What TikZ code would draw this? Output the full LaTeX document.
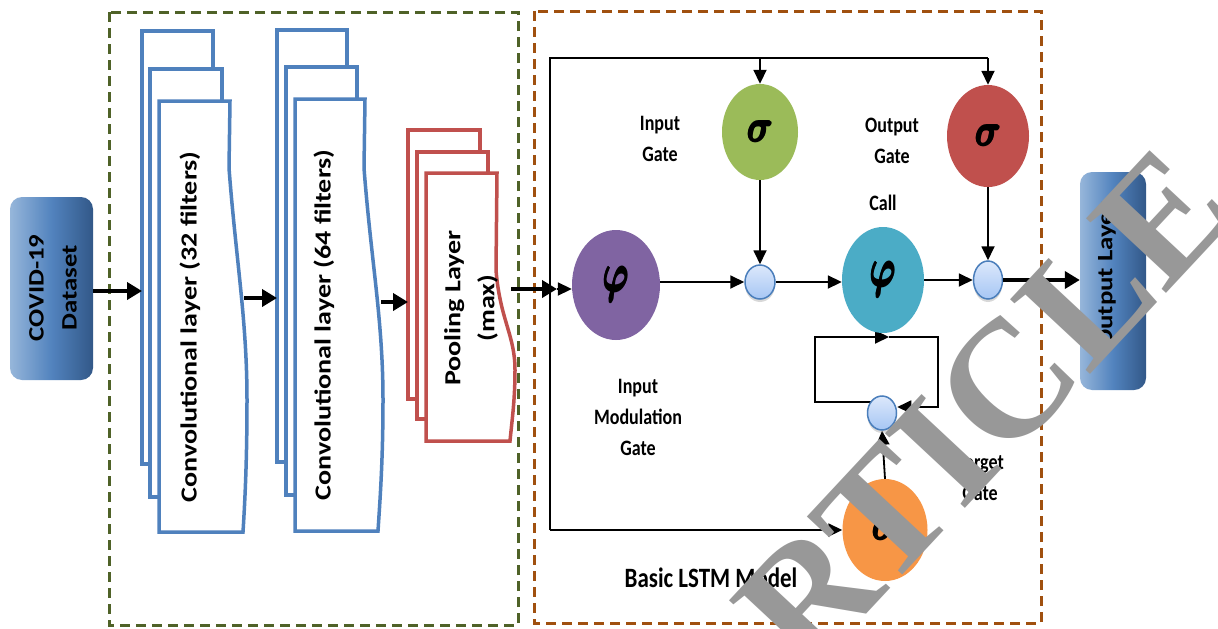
\documentclass[tikz,border=0pt]{standalone}
\usepackage{graphicx}
\usepackage{bm}
\usepackage{fontspec}
\setmainfont{Carlito}
\newfontfamily\hf[FakeStretch=0.82]{Carlito}
\newfontfamily\vf[FakeStretch=1.22]{Carlito}
\newfontfamily\wmf{Liberation Serif}
\usetikzlibrary{arrows.meta,shapes.geometric,shadows,calc}
\pgfdeclarelayer{bg}
\pgfsetlayers{bg,main}
\definecolor{dgreen}{RGB}{79,98,40}
\definecolor{dbrown}{RGB}{160,80,15}
\definecolor{cblue}{RGB}{79,129,189}
\definecolor{cred}{RGB}{192,80,77}
\definecolor{sgreen}{RGB}{155,187,89}
\definecolor{spurple}{RGB}{128,100,162}
\definecolor{steal}{RGB}{75,172,198}
\definecolor{sred}{RGB}{192,80,77}
\definecolor{sorange}{RGB}{247,150,70}
\definecolor{gl}{RGB}{150,182,218}
\definecolor{gm}{RGB}{82,131,190}
\definecolor{gr}{RGB}{50,88,136}
\definecolor{cl}{RGB}{220,232,251}
\definecolor{cd}{RGB}{166,198,244}
\definecolor{cb}{RGB}{74,126,187}
\definecolor{wmgray}{RGB}{152,152,152}
\newcommand\fbold[1]{\ooalign{\boldmath$#1$\cr\kern0.3pt\boldmath$#1$\cr\raisebox{0.25pt}{\boldmath$#1$}\cr\kern0.15pt\raisebox{-0.2pt}{\boldmath$#1$}\cr}}
\newcommand\bsig{\scalebox{3.6}[4.5]{\fbold{\sigma}}}
\newcommand\bphi{\scalebox{3.5}[5.2]{\fbold{\varphi}}}
\begin{document}
\begin{tikzpicture}[x=1pt,y=-1pt,
  tharr/.style={line width=4.5pt,-{Triangle[length=15pt 0,width=17pt 0]}},
  arr/.style={line width=1.8pt,-{Triangle[length=14pt 0,width=13pt 0]}},
  fl/.style={line width=1.8pt},
  dbox/.style={line width=3pt,dash pattern=on 10pt off 6pt},
  lblue/.style={draw=cblue,line width=3.5pt,fill=white},
  lred/.style={draw=cred,line width=3.5pt,fill=white},
  gbox/.style={rounded corners=12pt,left color=gl,right color=gr,middle color=gm,inner sep=0pt},
  vt/.style={font=\vf\bfseries\fontsize{23}{34}\selectfont,rotate=90,align=center,inner sep=0pt},
  ht/.style={font=\hf\bfseries\fontsize{22}{31}\selectfont,align=center,inner sep=0pt},
  big/.style={ellipse,inner sep=0pt},
  small/.style={ellipse,inner sep=0pt,draw=cb,line width=1.5pt,top color=cl,bottom color=cd,
     drop shadow={opacity=0.3,shadow xshift=0pt,shadow yshift=-3pt}},
  wm/.style={font=\wmf\bfseries\fontsize{167}{167}\selectfont,text=wmgray,inner sep=0pt,rotate=47}
]
\useasboundingbox (0,0) rectangle (1218,629);
\begin{pgfonlayer}{bg}
\fill[white] (0,0) rectangle (1218,629);
\end{pgfonlayer}

% dashed groups
\draw[dbox,draw=dgreen] (109,12) rectangle (518,625);
\draw[dbox,draw=dbrown] (534,11) rectangle (1041,623);

% dataset
\node[gbox,minimum width=83pt,minimum height=183pt] (ds) at (51.5,288.5) {};
\node[vt,font=\vf\bfseries\fontsize{22}{33}\selectfont] (dst) at (53,288) {COVID-19\\Dataset};

% conv layer 1
\draw[lblue] (142,31) rectangle (213,464);
\draw[lblue] (150,69) rectangle (222,497);
\draw[lblue] (159,101) -- (230,101) -- (229,168) .. controls (236,260) and (247,320) .. (247,400)
   .. controls (247,460) and (245,500) .. (243,532) -- (159,532) -- cycle;
\node[vt] (c1t) at (190,327) {Convolutional layer (32 filters)};
% conv layer 2
\draw[lblue] (277,30) rectangle (347,462);
\draw[lblue] (286,67) rectangle (357,495);
\draw[lblue] (295,99) -- (365,99) -- (364,168) .. controls (371,260) and (383,320) .. (383,400)
   .. controls (383,460) and (380,500) .. (378,531) -- (295,531) -- cycle;
\node[vt] (c2t) at (324,325) {Convolutional layer (64 filters)};
% pooling
\draw[lred] (408,130) rectangle (480,399);
\draw[lred] (417,152) rectangle (488,419);
\draw[lred] (426,173) -- (497,173) -- (496,270) .. controls (500,320) and (515,335) .. (515,370)
   .. controls (515,400) and (512,420) .. (510,441) -- (426,441) -- cycle;
\node[vt] (pt) at (471,308) {Pooling Layer\\(max)};

% CNN arrows
\coordinate (c1in) at (142,291);
\coordinate (c1out) at (244,298);
\coordinate (c2in) at (277,298);
\coordinate (c2out) at (381,302);
\coordinate (pin) at (408,302);
\coordinate (pout) at (511,289);
\coordinate (fin) at (557,289);
\draw[tharr] (ds.east |- c1in) -- (c1in);
\draw[tharr] (c1out) -- (c2in);
\draw[tharr] (c2out) -- (pin);
\draw[tharr] (pout) -- (fin);

% LSTM nodes
\node[big,fill=spurple,minimum width=88pt,minimum height=110pt] (ip) at (616,285) {\bphi};
\node[big,fill=sgreen,minimum width=76pt,minimum height=96pt] (ig) at (760,132) {\bsig};
\node[big,fill=steal,minimum width=82pt,minimum height=106pt] (cell) at (883,280) {\bphi};
\node[big,fill=sred,minimum width=82pt,minimum height=102pt] (og) at (988,136) {\bsig};
\node[big,fill=sorange,minimum width=85pt,minimum height=102pt] (fg) at (885,530) {\bsig};
\node[small,minimum width=30pt,minimum height=34pt] (m1) at (760,282) {};
\node[small,minimum width=29pt,minimum height=38pt] (m2) at (988,280) {};
\node[small,minimum width=29pt,minimum height=34pt] (m3) at (882,413) {};

% output layer
\node[gbox,minimum width=66pt,minimum height=218pt] (ol) at (1113,281) {};
\node[vt,font=\vf\bfseries\fontsize{22}{33}\selectfont] (olt) at (1107,275) {Output Layer};

% labels
\node[ht] (l1) at (660,139) {Input\\Gate};
\node[ht] (l2) at (892,141) {Output\\Gate};
\node[ht] (l3) at (883,203) {Call};
\node[ht] (l4) at (638,417) {Input\\Modulation\\Gate};
\node[ht] (l5) at (980,478) {Forget\\Gate};
\node[ht,font=\hf\bfseries\fontsize{28}{34}\selectfont] (l6) at (711,578) {Basic LSTM Model};

% LSTM connectors
\coordinate (tl) at (550,58);
\coordinate (bl) at (550,530);
\coordinate (lb) at (815,402);
\coordinate (lt) at (815,337);
\coordinate (mt) at (889,337);
\coordinate (rt) at (938,337);
\coordinate (rb) at (938,407);
\begin{pgfonlayer}{bg}
\draw[fl] (bl) -- (tl) -- (og |- tl);
\draw[arr] (fin) -- (ip.west |- fin);
\draw[arr] (og |- tl) -- (og.north);
\draw[arr] (ig |- tl) -- (ig.north);
\draw[arr] (bl) -- (fg.west);
\draw[arr] (ip.east |- m1) -- (m1.west);
\draw[arr] (ig.south) -- (m1.north);
\draw[arr] (m1.east) -- (cell.west |- m1);
\draw[arr] (cell.east |- m2) -- (m2.west);
\draw[arr] (og.south) -- (m2.north);
\draw[arr] (fg.north) -- (m3.south);
\draw[arr] (m3 |- lb) -- (lb) -- (lt) -- (mt);
\draw[arr] (mt) -- (rt) -- (rb) -- (m3.east |- rb);
\end{pgfonlayer}
\draw[tharr] (m2.east) -- (ol.west |- m2);

% watermark
\node[wm,anchor=base west] (wmk) at (725,766) {ARTICLE};
\end{tikzpicture}
\end{document}
